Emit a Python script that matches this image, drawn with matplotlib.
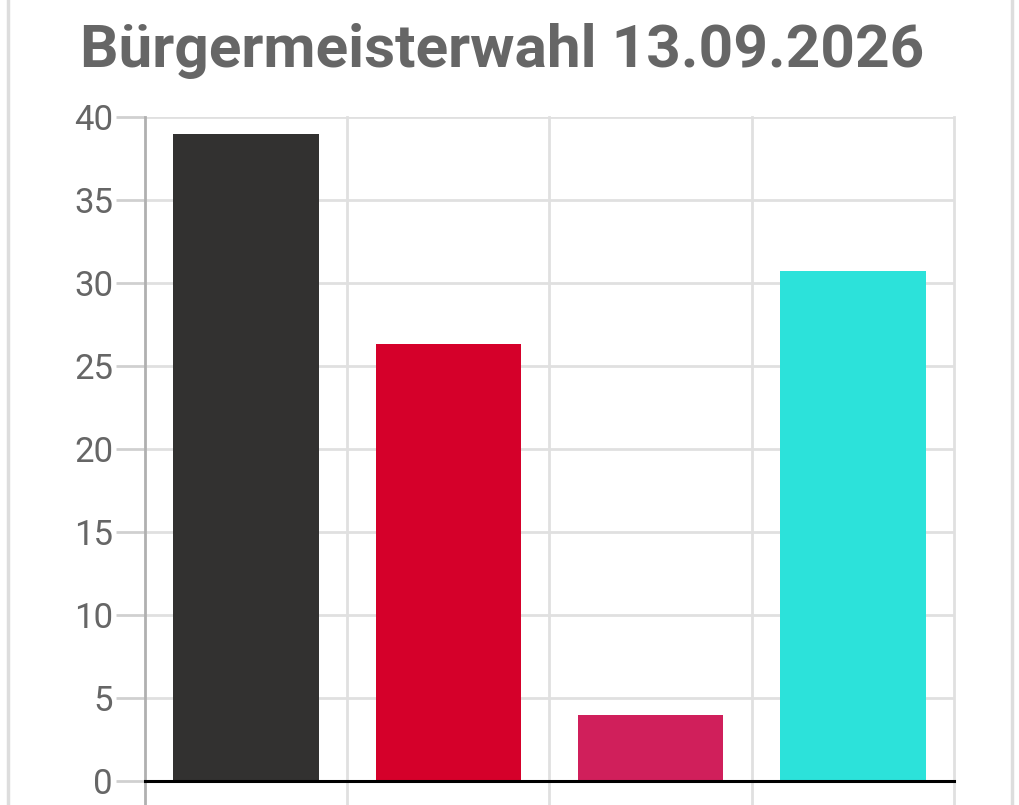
import matplotlib.pyplot as plt
from matplotlib.lines import Line2D

plt.rcParams['font.family'] = ['Roboto', 'DejaVu Sans']

title = 'Bürgermeisterwahl 13.09.2026'
values = [39.0, 26.3, 4.0, 30.7]
colors = ['#323130', '#d5002a', '#d01f5b', '#2ce2da']
yticks = [0, 5, 10, 15, 20, 25, 30, 35, 40]

fig = plt.figure(figsize=(10.19, 8.05), dpi=100)
ax = fig.add_axes([0.1423, 0.0298, 0.7939, 0.8249])

x = list(range(len(values)))
ax.bar(x, values, width=0.72, color=colors, zorder=3)

ax.set_xlim(-0.5, len(values) - 0.5)
ax.set_ylim(0, 40)
ax.set_yticks(yticks)
ax.set_xticks([])
ax.grid(axis='y', color='#e0e0e0', linewidth=2, zorder=0)
ax.tick_params(axis='y', length=21, width=2, color='#d0d0d0', pad=2,
               labelsize=25, labelcolor='#666666')

# category separators run below the plot area
for b in [0.5, 1.5, 2.5, 3.5]:
    ax.axvline(b, ymin=-0.05, ymax=1, color='#e0e0e0', linewidth=2,
               clip_on=False, zorder=1)
ax.axvline(-0.5, ymin=-0.05, ymax=1, color='#b0b0b0', linewidth=2,
           clip_on=False, zorder=4)

for s in ['top', 'right', 'left']:
    ax.spines[s].set_visible(False)
ax.spines['bottom'].set_color('black')
ax.spines['bottom'].set_linewidth(2.2)
ax.spines['bottom'].set_zorder(5)

fig.text(0.493, 0.937, title, ha='center', va='center', fontsize=43.5,
         fontweight='bold', color='#666666')

# card border
fig.add_artist(Line2D([0.008, 0.008], [0, 1], color='#dddddd', linewidth=2.5))
fig.add_artist(Line2D([0.993, 0.993], [0, 1], color='#dddddd', linewidth=2.5))

fig.savefig('out.png', dpi=100)
